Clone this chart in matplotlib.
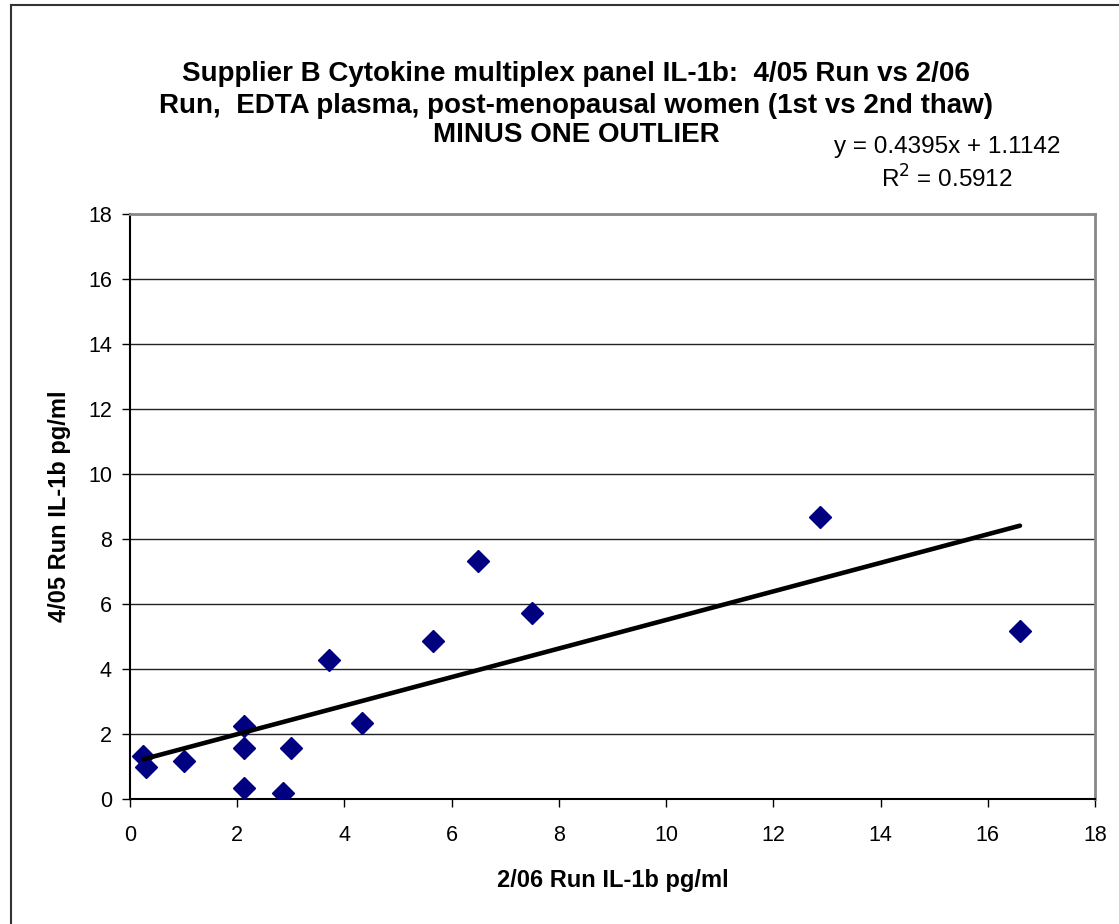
import matplotlib
matplotlib.use("Agg")
import matplotlib.pyplot as plt
from matplotlib.lines import Line2D

plt.rcParams['font.family'] = ['Liberation Sans', 'DejaVu Sans']

# Data: 2/06 Run (x) vs 4/05 Run (y), IL-1b pg/ml
run_0206 = [0.25, 0.30, 1.01, 2.13, 2.13, 2.13, 2.86, 3.00, 3.71, 4.33, 5.66, 6.49, 7.49, 12.87, 16.60]
run_0405 = [1.31, 1.00, 1.16, 2.26, 1.57, 0.34, 0.18, 1.57, 4.27, 2.34, 4.86, 7.31, 5.72, 8.69, 5.17]

slope = 0.4395
intercept = 1.1142
r_squared = 0.5912

x_ticks = [0, 2, 4, 6, 8, 10, 12, 14, 16, 18]
y_ticks = [0, 2, 4, 6, 8, 10, 12, 14, 16, 18]

title_lines = [
    "Supplier B Cytokine multiplex panel IL-1b:  4/05 Run vs 2/06",
    "Run,  EDTA plasma, post-menopausal women (1st vs 2nd thaw)",
    "MINUS ONE OUTLIER",
]
x_label = "2/06 Run IL-1b pg/ml"
y_label = "4/05 Run IL-1b pg/ml"

W, H = 1119, 924
fig = plt.figure(figsize=(W / 100, H / 100), dpi=100)
fig.patch.set_facecolor("white")

# chart-area border (left and top visible)
fig.add_artist(Line2D([11 / W, 11 / W], [0, 1 - 5 / H], color="#333333", lw=1.5, transform=fig.transFigure))
fig.add_artist(Line2D([11 / W, 1], [1 - 5 / H, 1 - 5 / H], color="#333333", lw=1.5, transform=fig.transFigure))

left, right, top, bottom = 130, 1095, 214, 799
ax = fig.add_axes([left / W, 1 - bottom / H, (right - left) / W, (bottom - top) / H])

ax.set_xlim(0, 18)
ax.set_ylim(0, 18)
ax.set_xticks(x_ticks)
ax.set_yticks(y_ticks)
ax.tick_params(axis="both", labelsize=15.5, direction="out", length=6, width=1, color="black")
ax.tick_params(axis="x", pad=13)
ax.tick_params(axis="y", pad=7)
ax.grid(axis="y", color="#222222", lw=1)
ax.set_axisbelow(True)

for s in ["top", "right"]:
    ax.spines[s].set_color("#888888")
    ax.spines[s].set_linewidth(2)
for s in ["left", "bottom"]:
    ax.spines[s].set_color("black")
    ax.spines[s].set_linewidth(1.5)

ax.plot(run_0206, run_0405, linestyle="none", marker="D", markersize=11,
        markerfacecolor="#000080", markeredgecolor="#000080", zorder=3)

xmin, xmax = min(run_0206), max(run_0206)
ax.plot([xmin, xmax], [slope * xmin + intercept, slope * xmax + intercept],
        color="black", lw=3.3, solid_capstyle="round", zorder=4)

ax.set_xlabel(x_label, fontsize=17, fontweight="bold", labelpad=16)
ax.set_ylabel(y_label, fontsize=17, fontweight="bold", labelpad=12)

title_y = [74, 106, 135]
for t, yy in zip(title_lines, title_y):
    fig.text(576 / W, 1 - yy / H, t, ha="center", va="center", fontsize=20, fontweight="bold")

fig.text(947 / W, 1 - 147 / H, f"y = {slope}x + {intercept}", ha="center", va="center", fontsize=17.5)
fig.text(947 / W, 1 - 179 / H, f"R$^2$ = {r_squared}", ha="center", va="center", fontsize=17.5)

fig.savefig("out.png", dpi=100, facecolor="white")
